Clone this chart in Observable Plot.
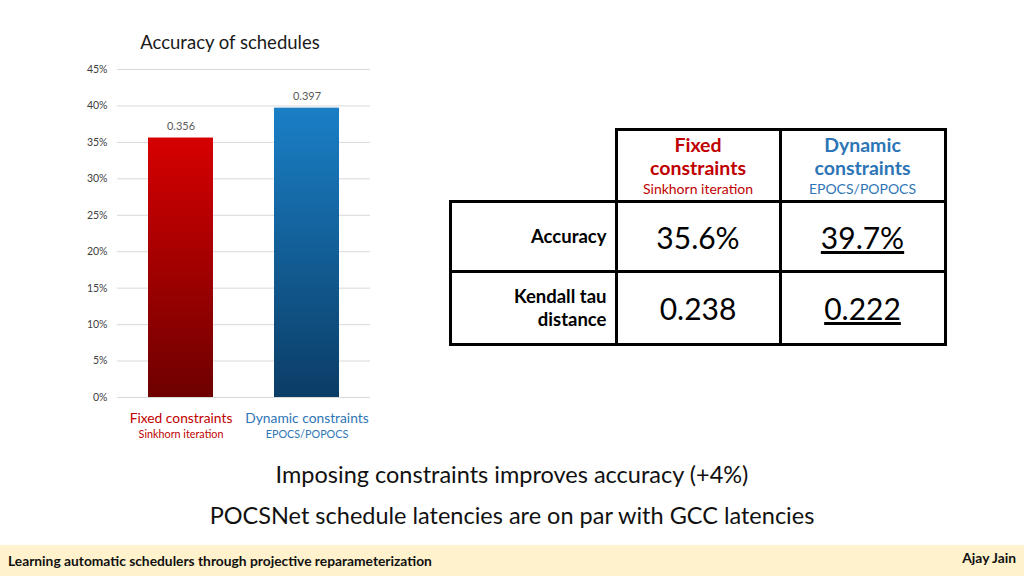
<!DOCTYPE html>
<html>
<head>
<meta charset="utf-8">
<script src="https://cdn.jsdelivr.net/npm/d3@7"></script>
<script src="https://cdn.jsdelivr.net/npm/@observablehq/plot@0.6"></script>
<style>
  html, body { margin: 0; padding: 0; background: #ffffff; }
  body { width: 1024px; height: 576px; position: relative; overflow: hidden; font-family: Lato, "Open Sans", sans-serif; }
  #title { position: absolute; left: 80px; width: 300px; top: 31px; text-align: center; font-size: 18.5px; color: #1a1a1a; }
  #chart { position: absolute; left: 70px; top: 55px; }
  #tbl { position: absolute; left: 449px; top: 128px; border-collapse: collapse; }
  #tbl td { border: 3px solid #000; padding: 0; text-align: center; vertical-align: middle; }
  #tbl td.blank { border-top: none; border-left: none; }
  #tbl td.rowlab { text-align: right; padding-right: 8px; font-weight: bold; font-size: 18.5px; line-height: 23px; color: #000; }
  #tbl td.val { font-size: 30px; color: #000; }
  .hmain { font-weight: bold; font-size: 19.5px; line-height: 23px; }
  .hsub { font-size: 14px; line-height: 19px; }
  .txt { position: absolute; left: 0; width: 1024px; text-align: center; font-size: 23.5px; color: #111; }
  #footer { position: absolute; left: 0; top: 545px; width: 1024px; height: 31px; background: #fff2cc; }
  #fl { position: absolute; left: 8px; top: 7px; font-weight: bold; font-size: 13.8px; color: #111; }
  #fr { position: absolute; right: 8px; top: 4px; font-weight: bold; font-size: 13.8px; color: #111; }
</style>
</head>
<body>
<div id="title">Accuracy of schedules</div>
<div id="chart"></div>

<table id="tbl">
  <tr style="height:72px">
    <td class="blank" style="width:164px"></td>
    <td style="width:161px"><div class="hmain" style="color:#c00000">Fixed<br>constraints</div><div class="hsub" style="color:#c00000">Sinkhorn iteration</div></td>
    <td style="width:162px"><div class="hmain" style="color:#2e75b6">Dynamic<br>constraints</div><div class="hsub" style="color:#2e75b6">EPOCS/POPOCS</div></td>
  </tr>
  <tr style="height:70px">
    <td class="rowlab">Accuracy</td>
    <td class="val">35.6%</td>
    <td class="val"><u>39.7%</u></td>
  </tr>
  <tr style="height:73px">
    <td class="rowlab">Kendall tau<br>distance</td>
    <td class="val">0.238</td>
    <td class="val"><u>0.222</u></td>
  </tr>
</table>

<div class="txt" style="top:460px">Imposing constraints improves accuracy (+4%)</div>
<div class="txt" style="top:501px">POCSNet schedule latencies are on par with GCC latencies</div>

<div id="footer">
  <div id="fl">Learning automatic schedulers through projective reparameterization</div>
  <div id="fr">Ajay Jain</div>
</div>

<script>
const categories = ["Fixed constraints", "Dynamic constraints"];
const subLabels = ["Sinkhorn iteration", "EPOCS/POPOCS"];
const accuracy = [0.356, 0.397];
const labelColors = ["#c00000", "#2e75b6"];
const gradTop = ["#d60000", "#1a7fc6"];
const gradBottom = ["#6e0000", "#0b3d66"];
const yTicks = [0, 0.05, 0.10, 0.15, 0.20, 0.25, 0.30, 0.35, 0.40, 0.45];

const data = categories.map((c, i) => ({
  cat: c, sub: subLabels[i], value: accuracy[i], color: labelColors[i], grad: `url(#grad${i})`
}));

const plot = Plot.plot({
  width: 310,
  height: 395,
  marginLeft: 47,
  marginRight: 10,
  marginTop: 14,
  marginBottom: 53,
  style: { fontFamily: "Lato, 'Open Sans', sans-serif", background: "transparent", overflow: "visible" },
  x: { domain: categories, paddingInner: 0.486, paddingOuter: 0.245, axis: null },
  y: { domain: [0, 0.45], axis: null },
  color: { type: "identity" },
  marks: [
    Plot.gridY(yTicks, { stroke: "#d9d9d9", strokeOpacity: 1, strokeWidth: 1 }),
    Plot.axisY(yTicks, { tickSize: 0, tickPadding: 10, tickFormat: d => `${Math.round(d * 100)}%`, fontSize: 10.5, fill: "#404040", label: null }),
    Plot.barY(data, { x: "cat", y: "value", fill: "grad" }),
    Plot.text(data, { x: "cat", y: "value", text: d => d.value.toFixed(3), dy: -12, fontSize: 11, fill: "#595959" }),
    Plot.text(data, { x: "cat", y: () => 0, text: "cat", dy: 21, fontSize: 13.8, fill: "color" }),
    Plot.text(data, { x: "cat", y: () => 0, text: "sub", dy: 37, fontSize: 10.8, fill: "color" })
  ]
});

const svg = d3.select(plot);
const defs = svg.insert("defs", ":first-child");
categories.forEach((c, i) => {
  const g = defs.append("linearGradient").attr("id", `grad${i}`).attr("x1", 0).attr("y1", 0).attr("x2", 0).attr("y2", 1);
  g.append("stop").attr("offset", "0%").attr("stop-color", gradTop[i]);
  g.append("stop").attr("offset", "100%").attr("stop-color", gradBottom[i]);
});

document.getElementById("chart").appendChild(plot);
</script>
</body>
</html>
